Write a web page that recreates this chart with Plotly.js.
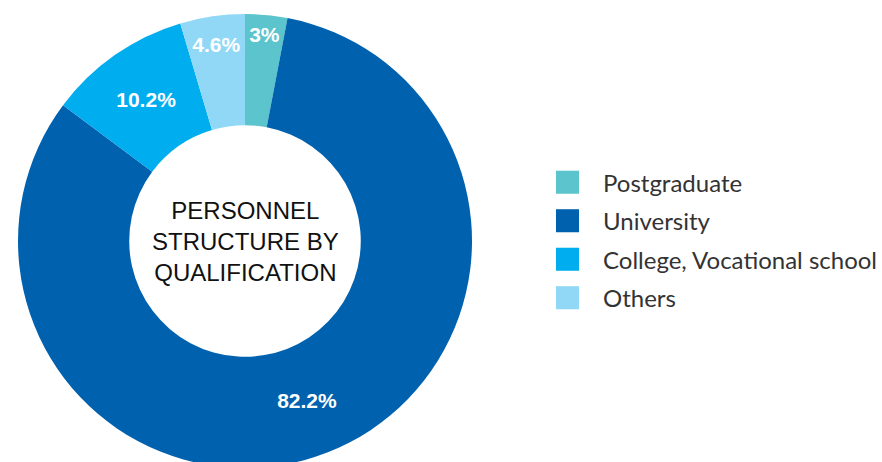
<!DOCTYPE html>
<html>
<head>
<meta charset="utf-8">
<script src="https://cdn.plot.ly/plotly-3.0.1.min.js"></script>
<style>html,body{margin:0;padding:0;overflow:hidden;background:#fff;}</style>
</head>
<body>
<div id="chart"></div>
<script>
const categories = ["Postgraduate", "University", "College, Vocational school", "Others"];
const shares = [3, 82.2, 10.2, 4.6];
const shareLabels = ["3%", "82.2%", "10.2%", "4.6%"];
const sliceColors = ["#5bc4cd", "#0061ae", "#00aeef", "#90d8f6"];
const centerTitle = "PERSONNEL<br>STRUCTURE BY<br>QUALIFICATION";

const W = 882, H = 468;
const trace = {
  type: "pie",
  labels: categories,
  values: shares,
  text: shareLabels,
  textinfo: "text",
  textposition: "inside",
  insidetextorientation: "horizontal",
  insidetextfont: {family: "Liberation Sans, Arial, sans-serif", size: 21, color: "#ffffff", weight: "bold"},
  marker: {colors: sliceColors, line: {width: 0}},
  hole: 0.51,
  sort: false,
  direction: "clockwise",
  rotation: 0,
  domain: {x: [18 / W, 472 / W], y: [0, 1]},
  hoverinfo: "label+text"
};

const layout = {
  width: W,
  height: H,
  margin: {l: 0, r: 0, t: 14, b: 0},
  paper_bgcolor: "#ffffff",
  showlegend: true,
  legend: {
    x: 547.5 / W, xanchor: "left",
    y: 0.502, yanchor: "middle",
    font: {family: "Lato, sans-serif", size: 24, color: "#333333"},
    bgcolor: "rgba(0,0,0,0)"
  },
  annotations: [{
    text: centerTitle,
    x: 245 / W, y: 0.5, xref: "paper", yref: "paper",
    xanchor: "center", yanchor: "middle",
    showarrow: false,
    font: {family: "Liberation Sans, Arial, sans-serif", size: 24, color: "#111111"}
  }]
};

Plotly.newPlot("chart", [trace], layout, {displayModeBar: false}).then(function (gd) {
  const leg = gd.querySelector(".legend");
  leg.querySelectorAll("[clip-path]").forEach(function (el) { el.removeAttribute("clip-path"); });
  leg.querySelectorAll(".legendpoints path").forEach(function (p) {
    const t = p.getAttribute("transform") || "";
    p.setAttribute("transform", t + " scale(1.92)");
  });
  leg.querySelectorAll(".legendtext").forEach(function (t) {
    t.setAttribute("x", parseFloat(t.getAttribute("x") || 0) + 15.5);
  });
  const items = Array.from(leg.querySelectorAll(".traces"));
  const ys = items.map(function (g) {
    const m = /translate\(\s*([-\d.]+)[ ,]+([-\d.]+)\s*\)/.exec(g.getAttribute("transform") || "");
    return m ? [parseFloat(m[1]), parseFloat(m[2])] : [0, 0];
  });
  if (items.length > 1) {
    const s0 = (ys[ys.length - 1][1] - ys[0][1]) / (items.length - 1);
    const mid = (items.length - 1) / 2;
    items.forEach(function (g, i) {
      const ny = ys[i][1] + (i - mid) * (38.5 - s0);
      g.setAttribute("transform", "translate(" + ys[i][0] + "," + ny + ")");
    });
  }
});
</script>
</body>
</html>
